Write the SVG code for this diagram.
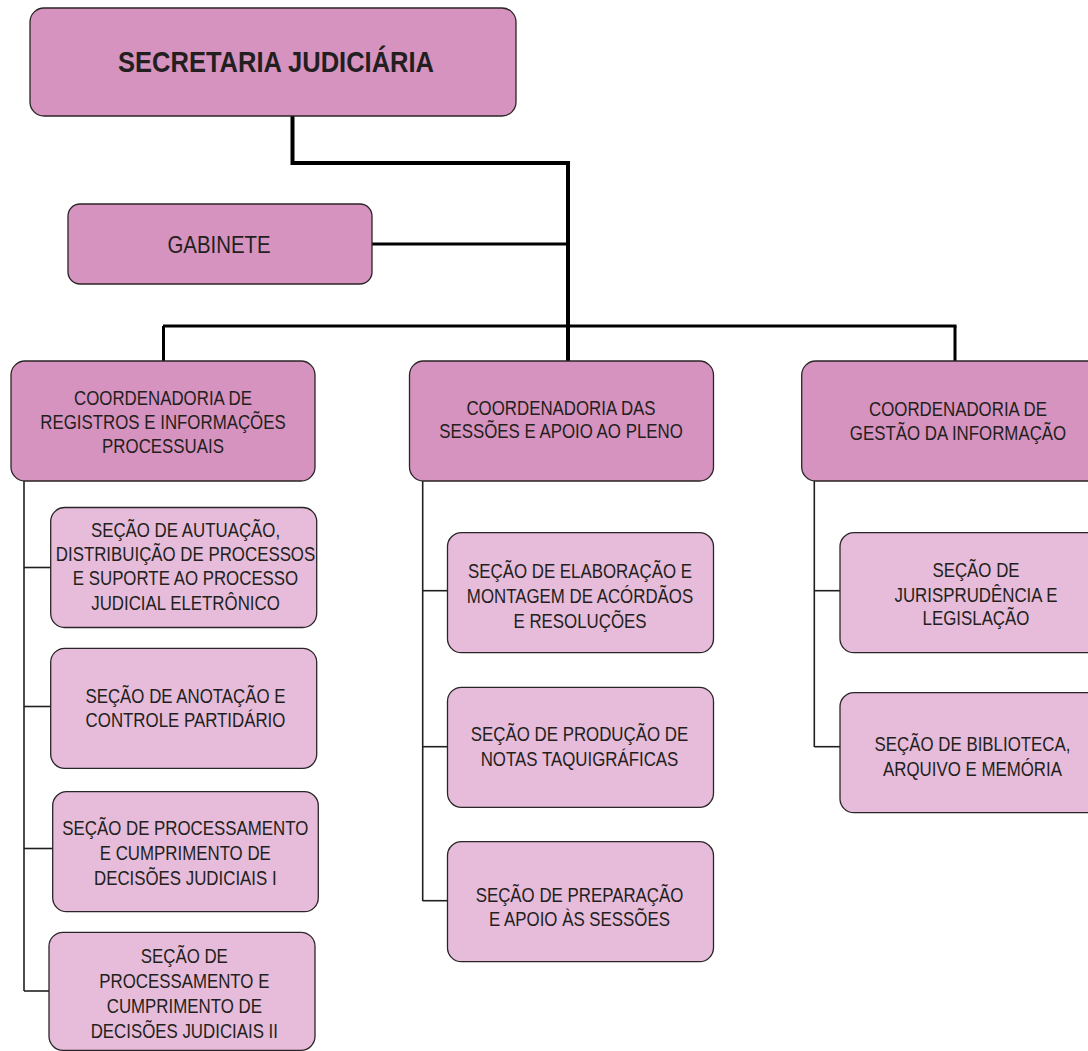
<svg xmlns="http://www.w3.org/2000/svg" width="1088" height="1051" viewBox="0 0 1088 1051">
<style>
.bg{fill:#ffffff}
.main{fill:#D693BF;stroke:#2a2526;stroke-width:1.3}
.sub{fill:#E6BCDA;stroke:#2a2526;stroke-width:1.3}
.t{font-family:"Liberation Sans",Arial,sans-serif;font-size:19.5px;fill:#231F20;text-anchor:middle}
.title{font-family:"Liberation Sans",Arial,sans-serif;font-size:29px;font-weight:bold;fill:#231F20;text-anchor:middle}
.gab{font-family:"Liberation Sans",Arial,sans-serif;font-size:24px;fill:#231F20;text-anchor:middle}
.thick{stroke:#000;stroke-width:4;fill:none;stroke-linejoin:miter}
.mid{stroke:#000;stroke-width:3;fill:none}
.thin{stroke:#231F20;stroke-width:1.6;fill:none}
</style>
<rect class="bg" x="0" y="0" width="1088" height="1051"/>
<g id="connectors">
<polyline class="thick" points="292.5,116 292.5,163 568,163 568,361"/>
<line class="mid" x1="372" y1="244" x2="568" y2="244"/>
<line class="mid" x1="163" y1="326" x2="956.5" y2="326"/>
<line class="mid" x1="163.5" y1="326" x2="163.5" y2="361"/>
<line class="mid" x1="955" y1="326" x2="955" y2="361"/>
<line class="thin" x1="24" y1="481" x2="24" y2="991"/>
<line class="thin" x1="24" y1="567.5" x2="51" y2="567.5"/>
<line class="thin" x1="24" y1="706.5" x2="51" y2="706.5"/>
<line class="thin" x1="24" y1="848.5" x2="53" y2="848.5"/>
<line class="thin" x1="24" y1="991" x2="49" y2="991"/>
<line class="thin" x1="422.7" y1="481" x2="422.7" y2="901"/>
<line class="thin" x1="422.7" y1="590.7" x2="447.5" y2="590.7"/>
<line class="thin" x1="422.7" y1="746.7" x2="447.5" y2="746.7"/>
<line class="thin" x1="422.7" y1="900.7" x2="447.5" y2="900.7"/>
<line class="thin" x1="814.3" y1="481" x2="814.3" y2="747"/>
<line class="thin" x1="814.3" y1="590.7" x2="840" y2="590.7"/>
<line class="thin" x1="814.3" y1="746.7" x2="840" y2="746.7"/>
</g>
<g id="secretaria">
<rect class="main" x="30" y="8" width="486" height="108" rx="14"/>
<text class="title" transform="translate(276,0) scale(0.88,1)" x="0" y="72">SECRETARIA JUDICIÁRIA</text>
</g>
<g id="gabinete">
<rect class="main" x="68" y="204" width="304" height="80" rx="12"/>
<text class="gab" transform="translate(219,0) scale(0.85,1)" x="0" y="253">GABINETE</text>
</g>
<g id="coord-registros">
<rect class="main" x="11" y="361" width="304" height="120" rx="14"/>
<text class="t" transform="translate(163,0) scale(0.865,1)"><tspan x="0" y="405">COORDENADORIA DE</tspan><tspan x="0" y="429">REGISTROS E INFORMAÇÕES</tspan><tspan x="0" y="453">PROCESSUAIS</tspan></text>
</g>
<g id="coord-sessoes">
<rect class="main" x="409.5" y="361" width="304" height="120" rx="14"/>
<text class="t" transform="translate(561,0) scale(0.865,1)"><tspan x="0" y="415">COORDENADORIA DAS</tspan><tspan x="0" y="438.5">SESSÕES E APOIO AO PLENO</tspan></text>
</g>
<g id="coord-gestao">
<rect class="main" x="801.7" y="361" width="310" height="120" rx="14"/>
<text class="t" transform="translate(958,0) scale(0.865,1)"><tspan x="0" y="416.5">COORDENADORIA DE</tspan><tspan x="0" y="440">GESTÃO DA INFORMAÇÃO</tspan></text>
</g>
<g id="secao-autuacao">
<rect class="sub" x="50.7" y="507.5" width="266" height="120" rx="14"/>
<text class="t" transform="translate(185.5,0) scale(0.865,1)"><tspan x="0" y="537">SEÇÃO DE AUTUAÇÃO,</tspan><tspan x="0" y="561">DISTRIBUIÇÃO DE PROCESSOS</tspan><tspan x="0" y="585.5">E SUPORTE AO PROCESSO</tspan><tspan x="0" y="610">JUDICIAL ELETRÔNICO</tspan></text>
</g>
<g id="secao-anotacao">
<rect class="sub" x="50.7" y="648.3" width="266" height="120" rx="14"/>
<text class="t" transform="translate(185.5,0) scale(0.865,1)"><tspan x="0" y="702.7">SEÇÃO DE ANOTAÇÃO E</tspan><tspan x="0" y="727.3">CONTROLE PARTIDÁRIO</tspan></text>
</g>
<g id="secao-processamento-1">
<rect class="sub" x="52.7" y="791.7" width="265.6" height="120" rx="14"/>
<text class="t" transform="translate(185.3,0) scale(0.865,1)"><tspan x="0" y="835">SEÇÃO DE PROCESSAMENTO</tspan><tspan x="0" y="860">E CUMPRIMENTO DE</tspan><tspan x="0" y="885">DECISÕES JUDICIAIS I</tspan></text>
</g>
<g id="secao-processamento-2">
<rect class="sub" x="49" y="932.3" width="266" height="118" rx="14"/>
<text class="t" transform="translate(184.3,0) scale(0.865,1)"><tspan x="0" y="962.7">SEÇÃO DE</tspan><tspan x="0" y="988.3">PROCESSAMENTO E</tspan><tspan x="0" y="1013.3">CUMPRIMENTO DE</tspan><tspan x="0" y="1038.3">DECISÕES JUDICIAIS II</tspan></text>
</g>
<g id="secao-elaboracao">
<rect class="sub" x="447.5" y="532.7" width="266" height="120" rx="14"/>
<text class="t" transform="translate(580,0) scale(0.865,1)"><tspan x="0" y="578.3">SEÇÃO DE ELABORAÇÃO E</tspan><tspan x="0" y="603.3">MONTAGEM DE ACÓRDÃOS</tspan><tspan x="0" y="628.3">E RESOLUÇÕES</tspan></text>
</g>
<g id="secao-notas">
<rect class="sub" x="447.5" y="687.3" width="266" height="120" rx="14"/>
<text class="t" transform="translate(579.5,0) scale(0.865,1)"><tspan x="0" y="741">SEÇÃO DE PRODUÇÃO DE</tspan><tspan x="0" y="766">NOTAS TAQUIGRÁFICAS</tspan></text>
</g>
<g id="secao-preparacao">
<rect class="sub" x="447.5" y="841.7" width="266" height="120" rx="14"/>
<text class="t" transform="translate(579.5,0) scale(0.865,1)"><tspan x="0" y="901.7">SEÇÃO DE PREPARAÇÃO</tspan><tspan x="0" y="926">E APOIO ÀS SESSÕES</tspan></text>
</g>
<g id="secao-jurisprudencia">
<rect class="sub" x="840" y="532.7" width="270" height="120" rx="14"/>
<text class="t" transform="translate(976,0) scale(0.865,1)"><tspan x="0" y="576.7">SEÇÃO DE</tspan><tspan x="0" y="601.7">JURISPRUDÊNCIA E</tspan><tspan x="0" y="625.5">LEGISLAÇÃO</tspan></text>
</g>
<g id="secao-biblioteca">
<rect class="sub" x="840" y="692.7" width="270" height="120" rx="14"/>
<text class="t" transform="translate(972.5,0) scale(0.865,1)"><tspan x="0" y="750.7">SEÇÃO DE BIBLIOTECA,</tspan><tspan x="0" y="776">ARQUIVO E MEMÓRIA</tspan></text>
</g>
</svg>
